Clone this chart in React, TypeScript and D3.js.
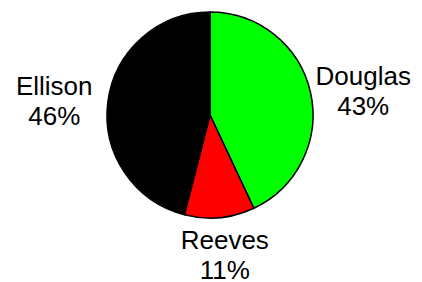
import React, { useEffect, useRef } from 'react';
import * as d3 from 'd3';

const names = ['Douglas', 'Reeves', 'Ellison'];
const shares = [43, 11, 46];
const colors = ['#00ff00', '#ff0000', '#000000'];

const W = 422;
const H = 282;

export default function App() {
  const svgRef = useRef<SVGSVGElement>(null);

  useEffect(() => {
    if (!svgRef.current) return;
    const root = d3.select(svgRef.current);
    root.selectAll('*').remove();

    const cx = 210;
    const cy = 115;
    const radius = 103;
    // labels: horizontal centre on a wider circle, vertical just outside the rim
    const labelRx = 157;
    const labelRy = 113;

    const g = root.append('g').attr('transform', `translate(${cx},${cy})`);

    const pie = d3.pie<number>().sort(null).value((d) => d);
    const arcs = pie(shares);
    const arc = d3.arc<d3.PieArcDatum<number>>().innerRadius(0).outerRadius(radius);

    g.selectAll('path.slice')
      .data(arcs)
      .enter()
      .append('path')
      .attr('class', 'slice')
      .attr('d', arc)
      .attr('fill', (_, i) => colors[i])
      .attr('stroke', '#000')
      .attr('stroke-width', 1.5)
      .attr('stroke-linejoin', 'round');

    const fontSize = 26;
    const lineGap = 30;
    const capH = 19;

    arcs.forEach((a, i) => {
      const mid = (a.startAngle + a.endAngle) / 2;
      const sx = Math.sin(mid);
      const sy = -Math.cos(mid);
      const px = sx * labelRx;
      const py = sy * labelRy;

      let y1: number;
      if (Math.abs(sx) < 0.4) {
        // above / below the pie
        y1 = sy > 0 ? py + 4 + capH - 1 : py - 4 - lineGap;
      } else {
        // beside the pie, block centred vertically
        y1 = py - (capH + lineGap) / 2 + capH;
      }

      const text = g.append('text')
        .attr('font-family', '"Liberation Sans", Arial, sans-serif')
        .attr('font-size', fontSize)
        .attr('fill', '#000')
        .attr('text-anchor', 'middle');

      text.append('tspan').attr('x', px).attr('y', y1).text(names[i]);
      text.append('tspan').attr('x', px).attr('y', y1 + lineGap).text(`${shares[i]}%`);
    });
  }, []);

  return (
    <div style={{ position: 'fixed', left: 0, top: 0, width: W, height: H, background: '#fff' }}>
      <svg ref={svgRef} width={W} height={H} style={{ display: 'block' }} />
    </div>
  );
}
